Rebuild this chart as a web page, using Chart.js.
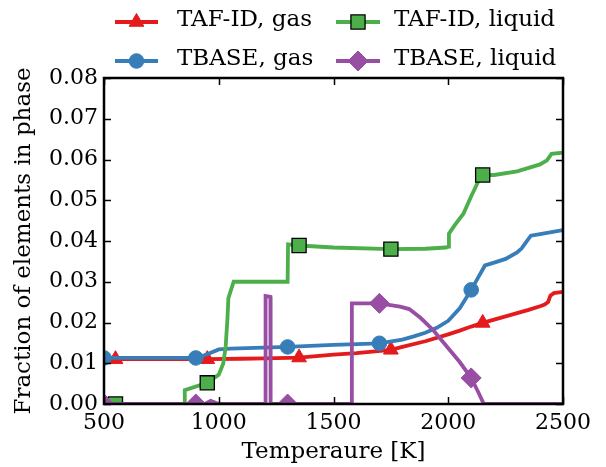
<!DOCTYPE html>
<html>
<head>
<meta charset="utf-8">
<script src="https://cdn.jsdelivr.net/npm/chart.js@4.4.0/dist/chart.umd.min.js"></script>
<style>
  html, body { margin: 0; padding: 0; background: #fff; }
  #wrap { width: 606px; height: 467px; }
</style>
</head>
<body>
<div id="wrap"><canvas id="phaseChart" width="606" height="467"></canvas></div>
<script>
// temperatures [K] and fraction of elements in phase
const tafGasT = [500, 550, 950, 1100, 1200, 1350, 1500, 1600, 1750, 1800, 1900, 2000, 2050, 2100, 2150, 2200, 2250, 2300, 2350, 2400, 2420, 2435, 2445, 2460, 2500];
const tafGasY = [0.0110, 0.0110, 0.0110, 0.0111, 0.0112, 0.0114, 0.0121, 0.0125, 0.0133, 0.0140, 0.0154, 0.0171, 0.0180, 0.0190, 0.0199, 0.0207, 0.0215, 0.0223, 0.0231, 0.0240, 0.0244, 0.0250, 0.0266, 0.0272, 0.0275];

const tbaseGasT = [500, 900, 950, 1000, 1050, 1300, 1500, 1700, 1800, 1850, 1900, 1950, 2000, 2050, 2100, 2130, 2160, 2200, 2250, 2300, 2320, 2340, 2360, 2400, 2500];
const tbaseGasY = [0.0113, 0.0113, 0.0122, 0.0134, 0.0136, 0.0140, 0.0145, 0.0149, 0.0158, 0.0166, 0.0175, 0.0187, 0.0204, 0.0235, 0.0280, 0.0310, 0.0340, 0.0347, 0.0356, 0.0372, 0.0382, 0.0398, 0.0413, 0.0417, 0.0427];

const tafLiqT = [500, 550, 850, 852, 950, 1000, 1020, 1030, 1038, 1042, 1065, 1300, 1302, 1350, 1500, 1750, 1900, 1990, 2000, 2003, 2030, 2066, 2100, 2140, 2150, 2200, 2300, 2400, 2430, 2450, 2500];
const tafLiqY = [0, 0, 0, 0.0034, 0.0052, 0.0072, 0.0100, 0.0140, 0.0210, 0.0260, 0.0300, 0.0300, 0.0392, 0.0389, 0.0384, 0.0380, 0.0381, 0.0384, 0.0386, 0.0418, 0.0440, 0.0467, 0.0510, 0.0557, 0.0562, 0.0562, 0.0571, 0.0588, 0.0598, 0.0614, 0.0617];

const tbaseLiqT = [500, 900, 940, 965, 1000, 1203, 1204, 1225, 1226, 1300, 1578, 1580, 1700, 1790, 1830, 1880, 1935, 2000, 2050, 2100, 2130, 2155, 2500];
const tbaseLiqY = [0, 0, 0, 0.0008, 0, 0, 0.0265, 0.0263, 0, 0, 0, 0.0247, 0.0247, 0.0239, 0.0233, 0.0211, 0.0181, 0.0137, 0.0103, 0.0064, 0.0030, 0, 0];

// temperatures where markers are shown
const tafMarks = [550, 950, 1350, 1750, 2150];
const tbaseMarks = [500, 900, 1300, 1700, 2100];

const seriesNames = ["TAF-ID, gas", "TBASE, gas", "TAF-ID, liquid", "TBASE, liquid"];
const xTicks = [500, 1000, 1500, 2000, 2500];
const yTicks = [0, 0.01, 0.02, 0.03, 0.04, 0.05, 0.06, 0.07, 0.08];

const FONT = "'DejaVu Serif', 'Liberation Serif', serif";

function toPoints(ts, ys) {
    return ts.map((t, i) => ({ x: t, y: ys[i] }));
}

function markRadius(marks, r) {
    return ctx => (ctx.raw && marks.includes(ctx.raw.x)) ? r : 0;
}

function makeSet(label, ts, ys, color, style, marks, r, edge, order) {
    return {
        label: label,
        data: toPoints(ts, ys),
        borderColor: color,
        backgroundColor: color,
        borderWidth: 3.8,
        pointStyle: style,
        pointRadius: markRadius(marks, r),
        pointHoverRadius: markRadius(marks, r),
        pointBackgroundColor: color,
        pointBorderColor: edge || color,
        pointBorderWidth: edge ? 1.3 : 1,
        tension: 0,
        clip: 0,
        order: order,
        _r: r
    };
}

const datasets = [
    makeSet(seriesNames[0], tafGasT, tafGasY, "#e41a1c", "triangle", tafMarks, 8.5, null, 4),
    makeSet(seriesNames[1], tbaseGasT, tbaseGasY, "#377eb8", "circle", tbaseMarks, 7.3, null, 3),
    makeSet(seriesNames[2], tafLiqT, tafLiqY, "#4daf4a", "rect", tafMarks, 10, "#000000", 2),
    makeSet(seriesNames[3], tbaseLiqT, tbaseLiqY, "#984ea3", "rectRot", tbaseMarks, 10, null, 1)
];

// inward ticks on all four sides, the box frame, and the 2-column legend
const framePlugin = {
    id: "frame",
    afterDatasetsDraw(chart) {
        const ctx = chart.ctx;
        const a = chart.chartArea;
        const xs = chart.scales.x, ys = chart.scales.y;
        ctx.save();
        ctx.strokeStyle = "#000";
        ctx.lineWidth = 1.5;
        ctx.beginPath();
        xTicks.forEach(v => {
            const px = Math.round(xs.getPixelForValue(v)) + 0.5;
            ctx.moveTo(px, a.bottom); ctx.lineTo(px, a.bottom - 7);
            ctx.moveTo(px, a.top); ctx.lineTo(px, a.top + 7);
        });
        yTicks.forEach(v => {
            const py = Math.round(ys.getPixelForValue(v)) + 0.5;
            ctx.moveTo(a.left, py); ctx.lineTo(a.left + 7, py);
            ctx.moveTo(a.right, py); ctx.lineTo(a.right - 7, py);
        });
        ctx.stroke();
        ctx.lineWidth = 2.5;
        ctx.strokeRect(a.left, a.top, a.right - a.left, a.bottom - a.top);
        ctx.restore();
    },
    afterDraw(chart) {
        const ctx = chart.ctx;
        const cols = [{ x0: 115, x1: 158, tx: 177 }, { x0: 336, x1: 380, tx: 394 }];
        const rows = [22, 61];
        // matplotlib fills legend column by column
        const slots = [[0, 0], [1, 0], [0, 1], [1, 1]];
        ctx.save();
        chart.data.datasets.forEach((ds, i) => {
            const c = cols[slots[i][1]];
            const y = rows[slots[i][0]];
            ctx.strokeStyle = ds.borderColor;
            ctx.lineWidth = ds.borderWidth;
            ctx.beginPath();
            ctx.moveTo(c.x0, y);
            ctx.lineTo(c.x1, y);
            ctx.stroke();
            ctx.fillStyle = ds.pointBackgroundColor;
            ctx.strokeStyle = ds.pointBorderColor;
            ctx.lineWidth = ds.pointBorderWidth;
            Chart.helpers.drawPoint(ctx, {
                pointStyle: ds.pointStyle, rotation: 0, radius: ds._r, borderWidth: ds.pointBorderWidth
            }, (c.x0 + c.x1) / 2, y);
            ctx.fillStyle = "#000";
            ctx.font = "23px " + FONT;
            ctx.textAlign = "left";
            ctx.textBaseline = "middle";
            ctx.fillText(ds.label, c.tx, y - 1.5);
        });
        ctx.restore();
    }
};

new Chart(document.getElementById("phaseChart"), {
    type: "line",
    data: { datasets: datasets },
    options: {
        responsive: false,
        animation: false,
        events: [],
        devicePixelRatio: 1,
        layout: { padding: { top: 78, right: 43, left: 0, bottom: 0 } },
        plugins: { legend: { display: false }, tooltip: { enabled: false } },
        scales: {
            x: {
                type: "linear",
                min: 500,
                max: 2500,
                afterFit: s => { s.height = 63; },
                afterBuildTicks: s => { s.ticks = xTicks.map(v => ({ value: v })); },
                grid: { display: false, drawTicks: false },
                border: { display: false },
                ticks: {
                    color: "#000",
                    padding: 6.3,
                    maxRotation: 0,
                    font: { family: FONT, size: 22 },
                    callback: v => String(v)
                },
                title: {
                    display: true,
                    text: "Temperaure [K]",
                    color: "#000",
                    font: { family: FONT, size: 23 },
                    padding: { top: 0, bottom: 1.5 }
                }
            },
            y: {
                type: "linear",
                min: 0,
                max: 0.08,
                afterFit: s => { s.width = 104; },
                afterBuildTicks: s => { s.ticks = yTicks.map(v => ({ value: v })); },
                grid: { display: false, drawTicks: false },
                border: { display: false },
                ticks: {
                    color: "#000",
                    padding: 6,
                    font: { family: FONT, size: 22 },
                    callback: v => v.toFixed(2)
                },
                title: {
                    display: true,
                    text: "Fraction of elements in phase",
                    color: "#000",
                    font: { family: FONT, size: 23 },
                    padding: { top: 10.5, bottom: 0 }
                }
            }
        }
    },
    plugins: [framePlugin]
});
</script>
</body>
</html>
